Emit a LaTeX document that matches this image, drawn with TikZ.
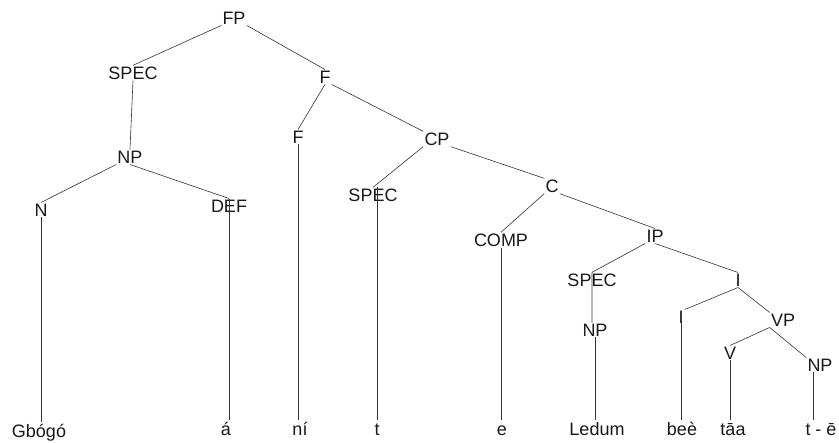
\documentclass[tikz,border=0pt]{standalone}
\usepackage{fontspec}
\setmainfont{Liberation Sans}
\begin{document}
\begin{tikzpicture}[x=1pt,y=-1pt,line width=0.6pt,color=black!80,
  every node/.style={font=\fontsize{18}{22}\selectfont,text=black!90,inner sep=1pt},
  word/.style={anchor=base,inner sep=0pt,text height=16pt}]
\useasboundingbox (0,0) rectangle (839,443);
\node (fp) at (234,18) {FP};
\node (spec1) at (133,73) {SPEC};
\node (f1) at (325,77) {F};
\node (f2) at (298,137) {F};
\node (np1) at (130,157) {NP};
\node (n) at (41,210) {N};
\node (def) at (229,206) {DEF};
\node (cp) at (437,139) {CP};
\node (spec2) at (373,195) {SPEC};
\node (c) at (552,186) {C};
\node (comp) at (501,240) {COMP};
\node (ip) at (655,236) {IP};
\node (spec3) at (592,280) {SPEC};
\node (i1) at (738,280) {I};
\node (np2) at (595,330) {NP};
\node (i2) at (681,317) {I};
\node (vp) at (783,320) {VP};
\node (v) at (730,353) {V};
\node (np3) at (820,365) {NP};
\node[word] (gbogo) at (39,438) {Gbógó};
\node[word] (a) at (226,436) {á};
\node[word] (ni) at (300,436) {ní};
\node[word] (t) at (377,436) {t};
\node[word] (e) at (502,436) {e};
\node[word] (ledum) at (597,436) {Ledum};
\node[word] (bee) at (682,436) {beè};
\node[word] (taa) at (733,436) {tāa};
\node[word] (te) at (821,436) {t - ē};
\draw (fp.south west) -- (spec1.north) (fp.south east) -- (f1.north) (spec1.south) -- (np1.north) (np1.south west) -- (n.north) (np1.south) -- (def.north);
\draw (f1.south) -- (f2.north) (f1.south east) -- (cp.north west) (cp.south west) -- (spec2.north) (cp.south east) -- (c.north west) (c.south west) -- (comp.north) (c.south east) -- (ip.north);
\draw (ip.south west) -- (spec3.north) (ip.south) -- (i1.north) (spec3.north) -- (spec3.north |- np2.north) (i1.south) -- (i2.north east) (i1.south) -- (vp.north west) (vp.south west) -- (v.north) (vp.south west) -- (np3.north west);
\draw (n.south) -- (n.south |- gbogo.north) (def.north) -- (def.north |- a.north) (f2.south) -- (f2.south |- ni.north) (spec2.north -| t) -- (t.north) (comp.south) -- (comp.south |- e.north) (np2.south) -- (np2.south |- ledum.north) ([yshift=4pt]i2.south) -- (i2.south |- bee.north) (v.south) -- (v.south |- taa.north) ([xshift=-7pt]np3.south) -- ([xshift=-7pt]np3.south |- te.north);
\end{tikzpicture}
\end{document}
